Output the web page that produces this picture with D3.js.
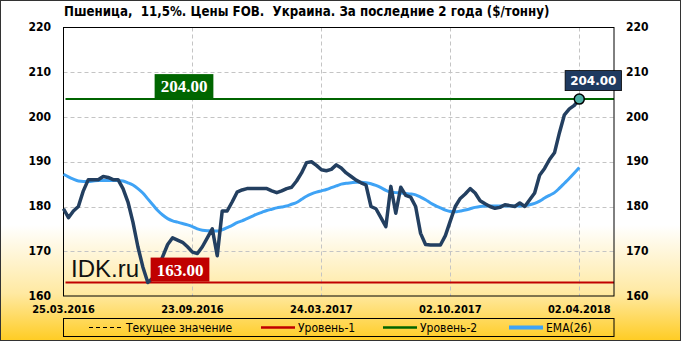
<!DOCTYPE html>
<html>
<head>
<meta charset="utf-8">
<script src="https://cdnjs.cloudflare.com/ajax/libs/d3/7.8.5/d3.min.js"></script>
<style>
  html, body { margin: 0; padding: 0; background: #fff; }
  svg { display: block; }
  .axis-label { font-family: "DejaVu Sans Condensed", "DejaVu Sans", sans-serif; font-weight: bold; font-size: 12px; fill: #000; }
  .legend-text { font-family: "DejaVu Sans Condensed", "DejaVu Sans", sans-serif; font-size: 12px; fill: #000; }
</style>
</head>
<body>
<svg id="chart" width="681" height="341"></svg>
<script>
// weekly FOB price, $/t
const price = [
  179.5, 177.5, 179, 180, 183.5, 186, 186, 186, 186.7, 186.5,
  186, 186, 184, 181, 176.5, 171, 166.5, 163, 164, 166,
  168.8, 171.5, 173, 172.5, 172, 171, 169.8, 169.5, 171, 173,
  175, 169, 179, 179, 181, 183.2, 183.7, 184, 184, 184,
  184, 184, 183.5, 183.1, 183.5, 184, 184.3, 185.7, 187.5, 189.8,
  190, 189.2, 188.2, 188, 188.3, 189.3, 188.6, 187.5, 186.7, 185.9,
  185.3, 184.8, 180, 179.5, 177.5, 175.5, 184.5, 178.5, 184.3, 182.5,
  182.1, 180, 174, 171.5, 171.4, 171.4, 171.4, 173.5, 176.8, 180,
  181.8, 182.8, 184, 183, 181.3, 180.6, 180, 179.6, 179.8, 180.4,
  180.2, 180, 180.8, 180, 181.5, 183, 187, 188.5, 190.5, 192,
  196.5, 200.5, 201.8, 202.6, 204
];

// EMA(26) as drawn on the picture
const ema = [
  187.2, 186.6, 186.1, 185.7, 185.6, 185.6, 185.7, 185.8, 185.8, 185.8,
  185.8, 185.8, 185.7, 185.3, 184.8, 184, 183, 181.7, 180.4, 179.1,
  178.1, 177.3, 176.8, 176.5, 176.2, 175.9, 175.5, 175, 174.7, 174.6,
  174.6, 174.5, 174.8, 175.3, 175.8, 176.4, 176.8, 177.3, 177.8, 178.3,
  178.7, 179.1, 179.4, 179.7, 179.9, 180.1, 180.5, 180.9, 181.6, 182.3,
  182.8, 183.2, 183.5, 183.8, 184.2, 184.6, 185, 185.2, 185.3, 185.4,
  185.4, 185.3, 185.1, 184.7, 184.2, 183.6, 183.2, 183.1, 183, 182.9,
  182.8, 182.6, 182.1, 181.5, 180.8, 180.2, 179.7, 179.2, 178.9, 178.8,
  179, 179.2, 179.5, 179.8, 180, 180.1, 180.1, 180.1, 180.1, 180.1,
  180.1, 180.1, 180.1, 180.2, 180.4, 180.7, 181.2, 181.9, 182.5, 183.1,
  184.1, 185.2, 186.3, 187.5, 188.7
];

const tickIdx = [0, 26, 52, 78, 104];
const tickLabels = ["25.03.2016", "23.09.2016", "24.03.2017", "02.10.2017", "02.04.2018"];
const yTicks = [160, 170, 180, 190, 200, 210, 220];
const level1 = 163;
const level2 = 204;

const W = 681, H = 341;
const margin = { left: 63.5, right: 67, top: 27.5, bottom: 45 };

const svg = d3.select("#chart");
const defs = svg.append("defs");
const grad = defs.append("linearGradient")
  .attr("id", "bg").attr("x1", 0).attr("y1", 0).attr("x2", 0).attr("y2", 1);
grad.append("stop").attr("offset", "0%").attr("stop-color", "#ffffff");
grad.append("stop").attr("offset", "66%").attr("stop-color", "#ffffff");
grad.append("stop").attr("offset", "86%").attr("stop-color", "#ffe9a2");
grad.append("stop").attr("offset", "100%").attr("stop-color", "#ffcc22");

svg.append("rect").attr("width", W).attr("height", H).attr("fill", "url(#bg)");

const x = d3.scaleLinear().domain([0, 111]).range([margin.left, W - margin.right]);
const y = d3.scaleLinear().domain([160, 220]).range([H - margin.bottom, margin.top]);

// grid
const grid = svg.append("g")
  .attr("stroke", "#c4c4c4").attr("stroke-dasharray", "4,3").attr("stroke-width", 1);
grid.selectAll(".hg").data(yTicks.slice(1, -1)).enter().append("line")
  .attr("x1", x.range()[0]).attr("x2", x.range()[1])
  .attr("y1", (d) => Math.round(y(d)) + 0.5).attr("y2", (d) => Math.round(y(d)) + 0.5);
grid.selectAll(".vg").data(tickIdx.slice(1)).enter().append("line")
  .attr("x1", (d) => Math.round(x(d)) + 0.5).attr("x2", (d) => Math.round(x(d)) + 0.5)
  .attr("y1", y.range()[1]).attr("y2", y.range()[0]);

// level lines
svg.append("line")
  .attr("x1", x.range()[0] + 2).attr("x2", x.range()[1])
  .attr("y1", y(level2)).attr("y2", y(level2))
  .attr("stroke", "#006400").attr("stroke-width", 2);
svg.append("line")
  .attr("x1", x.range()[0] + 2).attr("x2", x.range()[1])
  .attr("y1", y(level1)).attr("y2", y(level1))
  .attr("stroke", "#c00000").attr("stroke-width", 2);

// frame
svg.append("rect")
  .attr("x", x.range()[0]).attr("y", y.range()[1])
  .attr("width", x.range()[1] - x.range()[0]).attr("height", y.range()[0] - y.range()[1])
  .attr("fill", "none").attr("stroke", "#000").attr("stroke-width", 1);

// watermark
svg.append("text")
  .attr("x", 71).attr("y", 276.5)
  .attr("font-family", "Liberation Sans, Arial, sans-serif").attr("font-size", 24)
  .attr("fill", "#111").text("IDK.ru");

// EMA
const line = d3.line().x((d, i) => x(i)).y((d) => y(d));
svg.append("path").datum(ema)
  .attr("d", line.curve(d3.curveMonotoneX))
  .attr("fill", "none").attr("stroke", "#3fa3f5").attr("stroke-width", 3);

// price
svg.append("path").datum(price)
  .attr("d", d3.line().x((d, i) => x(i)).y((d) => y(d)))
  .attr("fill", "none").attr("stroke", "#233f60").attr("stroke-width", 3.5)
  .attr("stroke-linejoin", "round");

// level labels
function levelLabel(cx, val, color) {
  const g = svg.append("g");
  const t = g.append("text")
    .attr("x", cx).attr("y", y(val) - 13)
    .attr("text-anchor", "middle").attr("dy", "0.35em")
    .attr("font-family", "Liberation Serif, Times New Roman, serif")
    .attr("font-weight", "bold").attr("font-size", 17).attr("fill", "#fff")
    .text(val.toFixed(2));
  const bb = t.node().getBBox();
  g.insert("rect", "text")
    .attr("x", bb.x - 6).attr("y", y(val) - 25)
    .attr("width", bb.width + 12).attr("height", 24)
    .attr("fill", color);
}
levelLabel(184, level2, "#006600");
levelLabel(180, level1, "#c00000");

// current value marker
const last = price.length - 1;
svg.append("circle")
  .attr("cx", x(last)).attr("cy", y(price[last])).attr("r", 5)
  .attr("fill", "#4fb0a6").attr("stroke", "#000").attr("stroke-width", 1.5);
const cur = svg.append("g");
const ct = cur.append("text")
  .attr("x", x(last) + 14).attr("y", y(price[last]) - 18.5)
  .attr("text-anchor", "middle").attr("dy", "0.35em")
  .attr("font-family", "DejaVu Sans, sans-serif").attr("font-weight", "bold")
  .attr("font-size", 12).attr("fill", "#fff")
  .text(price[last].toFixed(2));
const cb = ct.node().getBBox();
cur.insert("rect", "text")
  .attr("x", cb.x - 5).attr("y", y(price[last]) - 28.5)
  .attr("width", cb.width + 10).attr("height", 20)
  .attr("fill", "#1f3a60").attr("stroke", "#000").attr("stroke-width", 0.8);

// y labels both sides
svg.selectAll(".yl").data(yTicks).enter().append("text")
  .attr("class", "axis-label").attr("x", 51).attr("y", (d) => y(d))
  .attr("dy", "0.3em").attr("text-anchor", "end").text((d) => d);
svg.selectAll(".yr").data(yTicks).enter().append("text")
  .attr("class", "axis-label").attr("x", 626).attr("y", (d) => y(d))
  .attr("dy", "0.3em").attr("text-anchor", "start").text((d) => d);

// x labels
svg.selectAll(".xl").data(tickIdx).enter().append("text")
  .attr("class", "axis-label").attr("x", (d) => x(d)).attr("y", 313)
  .attr("text-anchor", "middle").style("font-size", "11px")
  .text((d, i) => tickLabels[i]);

// title
svg.append("text")
  .attr("class", "axis-label").attr("x", 64).attr("y", 16)
  .style("font-size", "13.2px").attr("xml:space", "preserve")
  .text("Пшеница,  11,5%. Цены FOB.  Украина. За последние 2 года ($/тонну)");

// legend
svg.append("rect")
  .attr("x", x.range()[0]).attr("y", 318.5).attr("width", x.range()[1] - x.range()[0]).attr("height", 18)
  .attr("fill", "none").attr("stroke", "#000");
const legendItems = [
  { label: "Текущее значение", x: 89, color: "#000", width: 1, dash: "4,3" },
  { label: "Уровень-1", x: 261, color: "#c00000", width: 2.5, dash: null },
  { label: "Уровень-2", x: 383, color: "#006400", width: 2.5, dash: null },
  { label: "EMA(26)", x: 509, color: "#3fa3f5", width: 4, dash: null },
];
const lg = svg.selectAll(".lg").data(legendItems).enter().append("g");
lg.append("line")
  .attr("x1", (d) => d.x).attr("x2", (d) => d.x + 34)
  .attr("y1", 327.5).attr("y2", 327.5)
  .attr("stroke", (d) => d.color).attr("stroke-width", (d) => d.width)
  .attr("stroke-dasharray", (d) => d.dash);
lg.append("text")
  .attr("class", "legend-text").attr("x", (d) => d.x + 37).attr("y", 332)
  .text((d) => d.label);

// outer border
svg.append("rect").attr("x", 0.5).attr("y", 0.5).attr("width", W - 1).attr("height", H - 1)
  .attr("fill", "none").attr("stroke", "#333");
</script>
</body>
</html>
